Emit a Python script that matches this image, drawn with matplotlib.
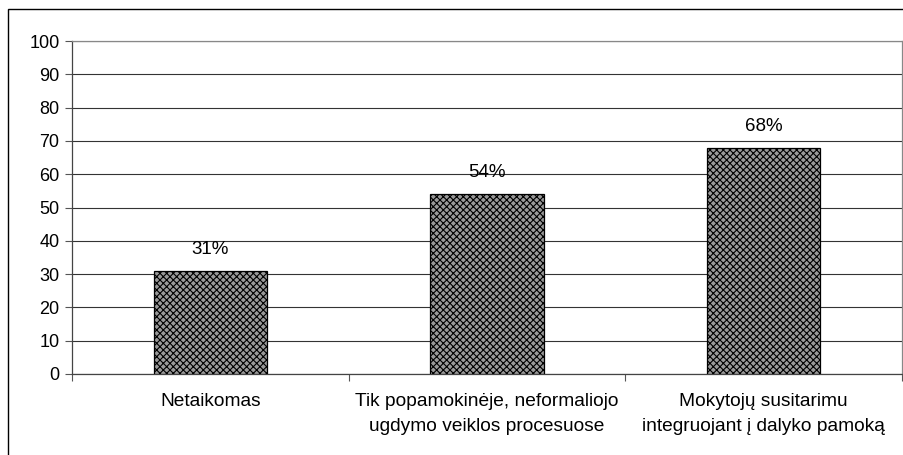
import matplotlib
matplotlib.use("Agg")
import matplotlib.pyplot as plt
from matplotlib.patches import Rectangle

categories = [
    "Netaikomas",
    "Tik popamokinėje, neformaliojo\nugdymo veiklos procesuose",
    "Mokytojų susitarimu\nintegruojant į dalyko pamoką",
]
values = [31, 54, 68]
yticks = list(range(0, 101, 10))

plt.rcParams["font.family"] = ["Liberation Sans", "DejaVu Sans"]
plt.rcParams["hatch.linewidth"] = 0.8
plt.rcParams["hatch.color"] = "black"

fig = plt.figure(figsize=(9.04, 4.55), dpi=100, facecolor="white")
ax = fig.add_axes([72 / 904, 81 / 455, 830 / 904, 333 / 455])

x = range(len(categories))
ax.bar(x, values, width=0.41, color="#9a9a9a", edgecolor="black",
       hatch="xxxxx", linewidth=0.9, zorder=3)
for xi, v in zip(x, values):
    ax.text(xi, v + 6.4, f"{v}%", ha="center", va="center", fontsize=13.5)

ax.set_xlim(-0.5, 2.5)
ax.set_ylim(0, 100)
ax.set_yticks(yticks)
ax.set_yticklabels([str(t) for t in yticks], fontsize=13)
ax.set_xticks(list(x))
ax.set_xticklabels(categories, fontsize=13.8, linespacing=1.55)
ax.tick_params(axis="x", length=0, pad=14)
ax.set_xticks([-0.5, 0.5, 1.5, 2.5], minor=True)
ax.tick_params(axis="x", which="minor", length=5, color="#555555", width=0.8)
ax.tick_params(axis="y", length=5, color="#555555", width=0.8, pad=4)

ax.grid(axis="y", color="#333333", linewidth=0.8, zorder=0)
ax.set_axisbelow(True)
ax.spines["left"].set_color("#444444")
ax.spines["bottom"].set_color("#444444")
ax.spines["top"].set_color("#888888")
ax.spines["right"].set_color("#888888")
for s in ax.spines.values():
    s.set_linewidth(0.9)

fig.patches.append(Rectangle((8 / 904, -0.2), 1.0, (446 / 455) + 0.2,
                             transform=fig.transFigure, fill=False,
                             edgecolor="black", linewidth=1.0))

fig.savefig("out.png", dpi=100, facecolor="white")
